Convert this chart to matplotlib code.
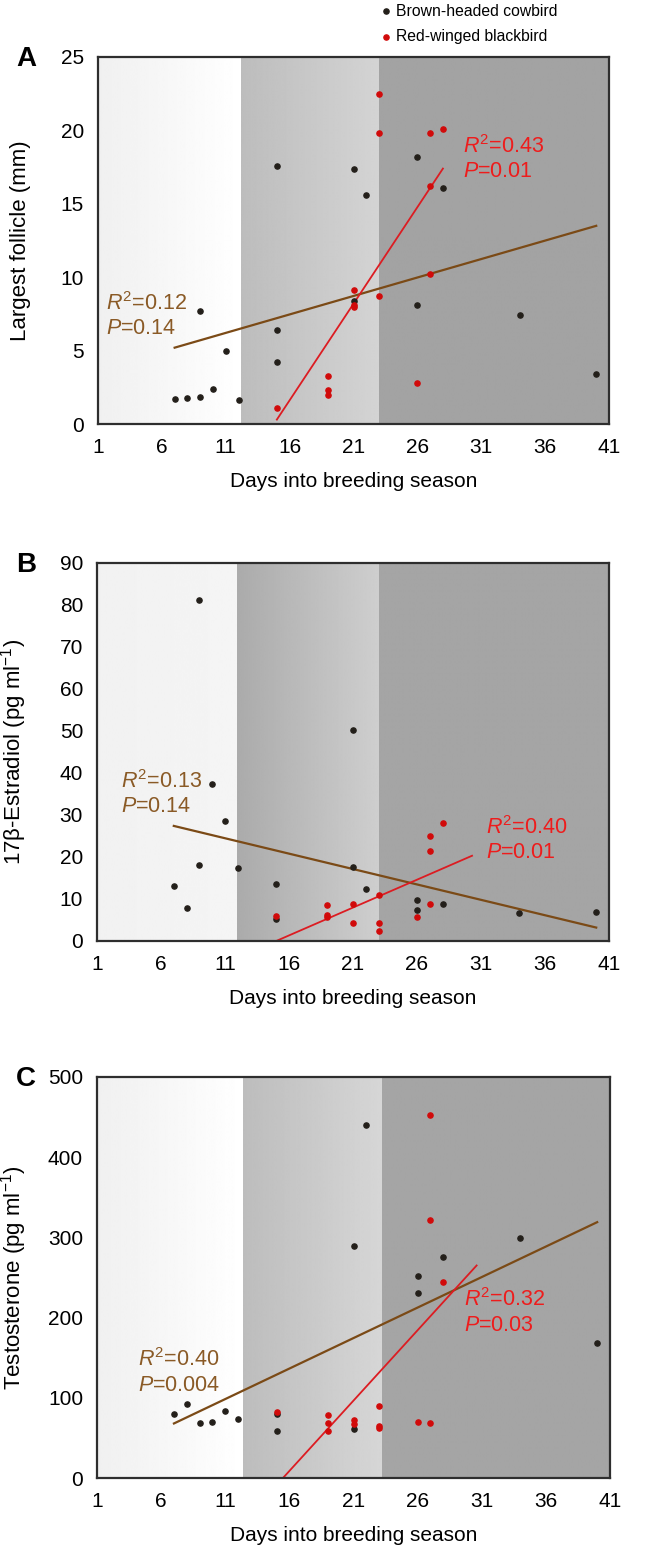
import numpy as np
import matplotlib.pyplot as plt

plt.rcParams['font.family'] = ['Liberation Sans', 'DejaVu Sans']
plt.rcParams['mathtext.fontset'] = 'custom'
plt.rcParams['mathtext.rm'] = 'Liberation Sans'
plt.rcParams['mathtext.it'] = 'Liberation Sans:italic'
plt.rcParams['mathtext.bf'] = 'Liberation Sans:bold'

# ---- data ----
day_ticks = [1, 6, 11, 16, 21, 26, 31, 36, 41]

# A: largest follicle (mm)
fol_cow_day = [7, 8, 9, 10, 12, 9, 11, 15, 15, 15, 21, 21, 22, 26, 26, 28, 34, 40]
fol_cow_val = [1.7, 1.8, 1.85, 2.4, 1.65, 7.7, 4.95, 17.55, 6.4, 4.2, 17.4, 8.4,
               15.6, 18.2, 8.1, 16.1, 7.4, 3.4]
fol_rwb_day = [23, 23, 27, 28, 27, 27, 21, 21, 21, 23, 26, 19, 19, 19, 15]
fol_rwb_val = [22.5, 19.8, 19.8, 20.1, 16.2, 10.25, 9.15, 8.1, 8.0, 8.7, 2.8,
               3.25, 2.35, 1.95, 1.1]
fol_cow_fit = ([7, 40], [5.2, 13.5])
fol_rwb_fit = ([15, 28], [0.3, 17.4])
fol_stats = ('$\\mathit{R}^{2}$=0.12\n$\\mathit{P}$=0.14',
             '$\\mathit{R}^{2}$=0.43\n$\\mathit{P}$=0.01')

# B: 17b-estradiol (pg/ml)
e2_cow_day = [9, 21, 10, 11, 9, 12, 21, 7, 8, 15, 15, 22, 26, 26, 28, 34, 40]
e2_cow_val = [81.3, 50.2, 37.5, 28.5, 18.1, 17.4, 17.7, 13.1, 7.8, 13.6, 5.2,
              12.5, 9.7, 7.4, 8.8, 6.7, 6.9]
e2_rwb_day = [28, 27, 27, 27, 19, 19, 19, 15, 21, 21, 23, 23, 23, 26]
e2_rwb_val = [28.0, 25.0, 21.5, 8.8, 8.6, 6.2, 5.7, 5.9, 8.7, 4.2, 10.9, 4.4, 2.4, 5.6]
e2_cow_fit = ([7, 40], [27.4, 3.2])
e2_rwb_fit = ([15, 30.3], [0.0, 20.3])
e2_stats = ('$\\mathit{R}^{2}$=0.13\n$\\mathit{P}$=0.14',
            '$\\mathit{R}^{2}$=0.40\n$\\mathit{P}$=0.01')

# C: testosterone (pg/ml)
t_cow_day = [22, 21, 34, 28, 26, 26, 40, 8, 7, 9, 10, 11, 12, 15, 15, 21]
t_cow_val = [440, 289, 299, 275, 252, 231, 168, 92, 80, 68, 70, 84, 74, 80, 58, 61]
t_rwb_day = [27, 27, 28, 23, 15, 19, 19, 19, 21, 21, 23, 23, 26, 27]
t_rwb_val = [452, 322, 244, 90, 82, 78, 68, 58, 72, 67, 65, 62, 70, 68]
t_cow_fit = ([7, 40], [68, 319])
t_rwb_fit = ([15.5, 30.6], [0, 265])
t_stats = ('$\\mathit{R}^{2}$=0.40\n$\\mathit{P}$=0.004',
           '$\\mathit{R}^{2}$=0.32\n$\\mathit{P}$=0.03')

COW = '#231f1a'
RWB = '#d10a0a'
BROWN_LINE = '#7b4a16'
BROWN_TXT = '#8a5a26'
RED_LINE = '#dc1c22'
RED_TXT = '#ee1c1c'
FS = 15
FS_STAT = 15.5
FS_YLAB = 16


def band(ax, x0, x1, g0, g1, ytop):
    grad = np.linspace(g0, g1, 256).reshape(1, -1)
    ax.imshow(grad, cmap='gray', vmin=0, vmax=1, extent=[x0, x1, 0, ytop],
              aspect='auto', zorder=0, interpolation='bilinear')


def panel(rect, letter, ylabel, ymax, ystep, cuts, shades,
          cow, rwb, cow_fit, rwb_fit, stats, stat_pos):
    ax = fig.add_axes(rect)
    c1, c2 = cuts
    band(ax, 1, c1, shades[0][0], shades[0][1], ymax)
    band(ax, c1, c2, shades[1][0], shades[1][1], ymax)
    band(ax, c2, 41, shades[2], shades[2], ymax)

    ax.plot(cow_fit[0], cow_fit[1], color=BROWN_LINE, lw=1.6, zorder=2)
    ax.plot(rwb_fit[0], rwb_fit[1], color=RED_LINE, lw=1.3, zorder=2)
    s1 = ax.scatter(cow[0], cow[1], s=14, color=COW, zorder=3,
                    label='Brown-headed cowbird')
    s2 = ax.scatter(rwb[0], rwb[1], s=14, color=RWB, zorder=3,
                    label='Red-winged blackbird')

    ax.text(stat_pos[0][0], stat_pos[0][1], stats[0], color=BROWN_TXT,
            fontsize=FS_STAT, va='center', linespacing=1.2, zorder=4)
    ax.text(stat_pos[1][0], stat_pos[1][1], stats[1], color=RED_TXT,
            fontsize=FS_STAT, va='center', linespacing=1.2, zorder=4)

    ax.set_xlim(1, 41)
    ax.set_ylim(0, ymax)
    ax.set_xticks(day_ticks)
    ax.set_yticks(np.arange(0, ymax + ystep / 2, ystep))
    ax.tick_params(length=0, labelsize=FS)
    ax.tick_params(axis='y', pad=10)
    ax.tick_params(axis='x', pad=10)
    for sp in ax.spines.values():
        sp.set_linewidth(1.6)
        sp.set_color('#2e2e2e')
    ax.set_xlabel('Days into breeding season', fontsize=FS, labelpad=11)
    ax.set_ylabel(ylabel, fontsize=FS_YLAB)
    ax.yaxis.set_label_coords(-0.132, 0.5)

    top = rect[1] + rect[3]
    fig.text(26 / 668, top - 2 / 1548, letter, fontsize=20, fontweight='bold',
             ha='center', va='center')
    return s1, s2


fig = plt.figure(figsize=(6.68, 15.48), dpi=100)

s1, s2 = panel([98 / 668, 1 - 424 / 1548, 511 / 668, 367 / 1548], 'A',
               'Largest follicle (mm)', 25, 5, (12.2, 23.0),
               ((0.94, 1.0), (0.74, 0.83), 0.64),
               (fol_cow_day, fol_cow_val), (fol_rwb_day, fol_rwb_val),
               fol_cow_fit, fol_rwb_fit, fol_stats,
               ((1.6, 7.4), (29.6, 18.1)))

panel([97 / 668, 1 - 941 / 1548, 512 / 668, 378 / 1548], 'B',
      '17\u03b2-Estradiol (pg ml$^{\u22121}$)', 90, 10, (11.9, 23.0),
      ((0.945, 0.96), (0.67, 0.81), 0.645),
      (e2_cow_day, e2_cow_val), (e2_rwb_day, e2_rwb_val),
      e2_cow_fit, e2_rwb_fit, e2_stats,
      ((2.9, 35.1), (31.4, 24.1)))

panel([97 / 668, 1 - 1478 / 1548, 513 / 668, 401 / 1548], 'C',
      'Testosterone (pg ml$^{\u22121}$)', 500, 100, (12.4, 23.2),
      ((0.94, 1.0), (0.74, 0.84), 0.645),
      (t_cow_day, t_cow_val), (t_rwb_day, t_rwb_val),
      t_cow_fit, t_rwb_fit, t_stats,
      ((4.2, 132), (29.6, 207)))

fig.legend(handles=[s1, s2], loc='upper left',
           bbox_to_anchor=(377 / 668, 1 - 2 / 1548), frameon=False,
           fontsize=11.3, handletextpad=0.2, handlelength=0.9,
           labelspacing=0.65, borderaxespad=0, borderpad=0.1)

fig.savefig('out.png', dpi=100)
